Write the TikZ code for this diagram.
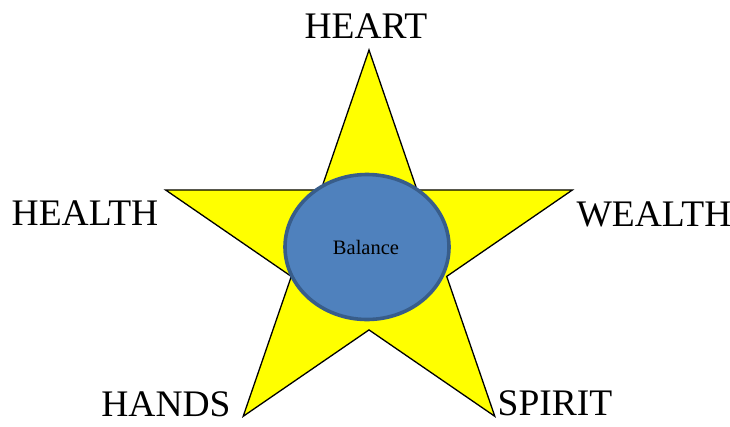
\documentclass[tikz,border=0pt]{standalone}
\usepackage{fontspec}
\setmainfont{Liberation Serif}
\usepackage{xcolor}
\usetikzlibrary{shapes.geometric}

\definecolor{starfill}{HTML}{FFFF00}
\definecolor{balfill}{HTML}{4F81BD}
\definecolor{balline}{HTML}{385D8A}

\begin{document}
\begin{tikzpicture}[
  x=1pt, y=-1pt,
  starline/.style={draw=black, line width=1.3pt, fill=starfill, line join=miter},
  core/.style={ellipse, draw=balline, line width=3.6pt, fill=balfill,
               minimum width=164pt, minimum height=145pt, inner sep=0pt},
  point/.style={anchor=base, inner sep=0pt,
                font=\fontsize{37.5}{42}\selectfont},
]
\useasboundingbox (0,0) rectangle (730,426);

% Star
\draw[starline] (369,50) -- (417,189.9) -- (572.5,189.9) -- (446.7,276.4)
  -- (494.8,416.3) -- (369,329.9) -- (243.2,416.3) -- (291.3,276.4)
  -- (165.5,189.9) -- (321,189.9) -- cycle;

% Centre
\node[core] (balance) at (367,247) {};
\node[anchor=base, inner sep=0pt, font=\fontsize{20.5}{24}\selectfont] (baltext) at (366,254) {Balance};

% Points of the star
\node[point] (heart) at (366,38) {HEART};
\node[point] (health) at (85,225.5) {HEALTH};
\node[point] (wealth) at (654,226) {WEALTH};
\node[point] (hands) at (166,416.5) {HANDS};
\node[point] (spirit) at (555,415.5) {SPIRIT};

\end{tikzpicture}
\end{document}
